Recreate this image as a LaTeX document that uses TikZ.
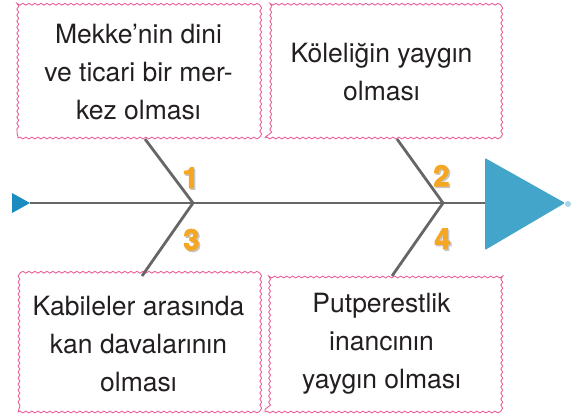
\documentclass[tikz,border=0pt]{standalone}
\usepackage{fontspec}
\setmainfont{TeX Gyre Heros}
\newfontfamily\numfont[FakeBold=3]{texgyreheros-bold.otf}
\usetikzlibrary{decorations.pathmorphing}
\definecolor{wavepink}{HTML}{E8609A}
\definecolor{bonegray}{HTML}{666666}
\definecolor{headblue}{HTML}{43A5C9}
\definecolor{tailblue}{HTML}{1A8CC0}
\definecolor{dotblue}{HTML}{A9D3E8}
\definecolor{numorange}{HTML}{F5A623}
\definecolor{txtblack}{HTML}{231F20}
% orange digit with a soft grey shadow behind it
\newcommand{\shadnum}[1]{\makebox[0pt][l]{\kern1.5pt\raisebox{-1.5pt}{\textcolor{black!22}{#1}}}\textcolor{numorange}{#1}}
\tikzset{
  cause/.style={draw=wavepink, line width=0.9pt, decorate,
    decoration={snake, amplitude=0.9pt, segment length=6pt},
    align=center, text=txtblack, inner sep=0pt,
    font=\fontsize{26.5}{38}\selectfont},
  bone/.style={draw=bonegray, line width=2.8pt},
  num/.style={font=\numfont\fontsize{29}{29}\selectfont}
}
\begin{document}
\begin{tikzpicture}[x=1pt,y=-1pt]
  \useasboundingbox (0,0) rectangle (578,413);
  % causes
  \node[cause, minimum width=241pt, minimum height=132pt] (mekke) at (138.5,72)
    {Mekke’nin dini\\ve ticari bir mer-\\kez olması};
  \node[cause, minimum width=233pt, minimum height=132pt] (kole) at (381.5,72)
    {Köleliğin yaygın\\olması};
  \node[cause, minimum width=241pt, minimum height=136pt] (kabile) at (138.5,344)
    {Kabileler arasında\\kan davalarının\\olması};
  \node[cause, minimum width=233pt, minimum height=136pt] (put) at (381.5,344)
    {Putperestlik\\inancının\\yaygın olması};
  % spine
  \coordinate (tail) at (30,203);
  \coordinate (head) at (486,203);
  \coordinate (j1) at (193,203);
  \coordinate (j2) at (443,203);
  \coordinate (b1) at (145,139);
  \coordinate (b2) at (397,139);
  \coordinate (b3) at (142,276);
  \coordinate (b4) at (392,276);
  \draw[bone] (tail) -- (head);
  \draw[bone] (b1) -- (j1);
  \draw[bone] (b3) -- (j1);
  \draw[bone] (b2) -- (j2);
  \draw[bone] (b4) -- (j2);
  \fill[tailblue] (12,193) -- (tail) -- (12,213) -- cycle;
  \fill[headblue, rounded corners=1pt] (485,158) -- (565,203) -- (485,250) -- cycle;
  \fill[dotblue] (568,204) circle (3);
  % numbers
  \node[num] (n1) at (190.5,178.5) {\shadnum{1}};
  \node[num] (n2) at (441.5,176.5) {\shadnum{2}};
  \node[num] (n3) at (191.5,240.5) {\shadnum{3}};
  \node[num] (n4) at (442.5,239.5) {\shadnum{4}};
\end{tikzpicture}
\end{document}
